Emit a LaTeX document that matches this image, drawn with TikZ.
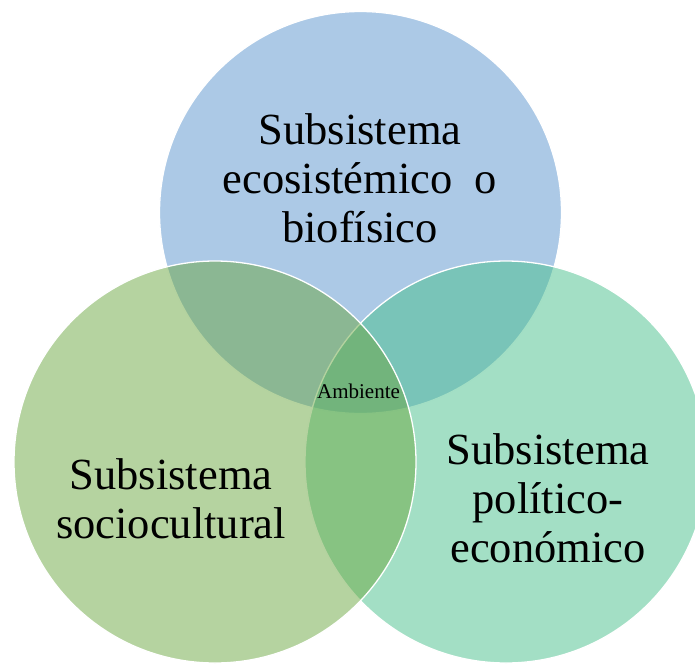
\documentclass[tikz,border=0pt]{standalone}
\usepackage{fontspec}
\setmainfont{Liberation Serif}
\definecolor{cblue}{RGB}{89,147,205}
\definecolor{cteal}{RGB}{71,191,139}
\definecolor{cgreen}{RGB}{107,167,65}
\tikzset{
  venn/.style={circle, minimum size=402pt, inner sep=0pt, fill opacity=0.5, draw=white, draw opacity=1, line width=1.3pt},
  bigtxt/.style={inner sep=0pt, align=center, font=\fontsize{44.5}{49}\selectfont},
  smalltxt/.style={inner sep=0pt, font=\fontsize{21}{23}\selectfont}
}
\begin{document}
\begin{tikzpicture}[x=1pt,y=-1pt]
\useasboundingbox (0,0) rectangle (695,664);
\begin{scope}
\clip (0,0) rectangle (695,664);
\node[venn, fill=cblue] (blue) at (360.5,212.5) {};
\node[venn, fill=cteal] (teal) at (506,462) {};
\node[venn, fill=cgreen] (green) at (215,462) {};
\end{scope}
\node[bigtxt, anchor=base] (t1) at (360,242) {Subsistema\\ecosistémico\ \ o\\biofísico};
\node[bigtxt, anchor=base] (t2) at (171,538) {Subsistema\\sociocultural};
\node[bigtxt, anchor=base] (t3) at (548,562) {Subsistema\\político-\\económico};
\node[smalltxt, anchor=base] (amb) at (358.5,398) {Ambiente};
\end{tikzpicture}
\end{document}
